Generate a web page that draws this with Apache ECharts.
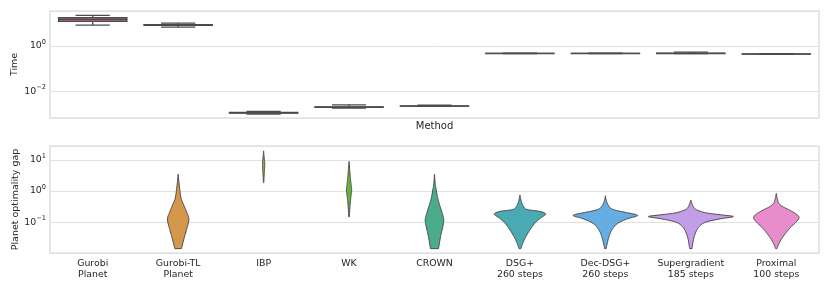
<!DOCTYPE html>
<html><head><meta charset="utf-8">
<script src="https://cdn.jsdelivr.net/npm/echarts@6/dist/echarts.min.js"></script>
<style>html,body{margin:0;padding:0;background:#fff}#c{width:830px;height:291px}</style>
</head><body><div id="c"></div>
<script>
// ---------- data ----------
const methods = ['Gurobi\nPlanet','Gurobi-TL\nPlanet','IBP','WK','CROWN','DSG+\n260 steps','Dec-DSG+\n260 steps','Supergradient\n185 steps','Proximal\n100 steps'];
const colors = ['#b06a76','#d5974c','#a5a23f','#64b43c','#4aac8c','#4aaab4','#65ade2','#c39ee8','#e88ccb'];

// Time (s) box statistics per method
const timeLow    = [8.1,   6.6,   0.00098, 0.0018, 0.00214, 0.45, 0.45, 0.45, 0.42];
const timeQ1     = [11.8,  7.9,   0.00108, 0.00195,0.00218, 0.455,0.455,0.455,0.425];
const timeMedian = [14.5,  8.2,   0.00112, 0.0020, 0.0022,  0.46, 0.46, 0.46, 0.43];
const timeQ3     = [17.4,  8.5,   0.00116, 0.00205,0.00225, 0.465,0.465,0.47, 0.435];
const timeHigh   = [21.8,  10.0,  0.0013,  0.0025, 0.00245, 0.47, 0.47, 0.53, 0.45];

// Planet optimality gap: violin profiles (gap levels, relative density)
const gapGurobiTLLevels  = [3.467,1.380,0.579,0.313,0.1905,0.126,0.0676,0.0339,0.0141];
const gapGurobiTLDensity = [0,.030,.070,.148,.211,.251,.211,.148,.077];
const gapIBPLevels  = [19.5,12.6,7.94,5.01,3.16,1.86];
const gapIBPDensity = [0,.012,.026,.022,.013,.004];
const gapWKLevels  = [8.91,5.01,2.51,1.58,1.07,0.631,0.316,0.148];
const gapWKDensity = [0,.014,.033,.049,.061,.042,.021,.005];
const gapCROWNLevels  = [3.467,1.766,1.076,0.579,0.313,0.168,0.116,0.0708,0.0339,0.0141];
const gapCROWNDensity = [0,.016,.040,.077,.133,.194,.218,.194,.141,.094];
const gapDSGLevels  = [0.743,0.575,0.398,0.275,0.245,0.221,0.181,0.131,0.080,0.038,0.0205,0.0141];
const gapDSGDensity = [0,.016,.047,.117,.234,.468,.602,.468,.311,.157,.063,.023];
const gapDecDSGLevels  = [0.708,0.537,0.380,0.275,0.232,0.1995,0.164,0.129,0.0912,0.055,0.0295,0.0141];
const gapDecDSGDensity = [0,.016,.054,.133,.288,.522,.756,.522,.288,.148,.070,.016];
const gapSupergradLevels  = [0.513,0.355,0.257,0.1995,0.172,0.151,0.129,0.1,0.0676,0.0339,0.0141];
const gapSupergradDensity = [0,.040,.117,.351,.703,.995,.703,.351,.180,.077,.028];
const gapProximalLevels  = [0.841,0.579,0.398,0.313,0.244,0.181,0.141,0.102,0.0625,0.0339,0.0205,0.0141];
const gapProximalDensity = [0,.023,.063,.157,.311,.468,.532,.468,.311,.157,.063,.016];

const violinProfiles = [
  null,
  [gapGurobiTLLevels, gapGurobiTLDensity],
  [gapIBPLevels, gapIBPDensity],
  [gapWKLevels, gapWKDensity],
  [gapCROWNLevels, gapCROWNDensity],
  [gapDSGLevels, gapDSGDensity],
  [gapDecDSGLevels, gapDecDSGDensity],
  [gapSupergradLevels, gapSupergradDensity],
  [gapProximalLevels, gapProximalDensity]
];

// ---------- rendering ----------
const EDGE = '#4b4b4b';
const TXT = '#262626';

function powLabel(v) {
  const e = Math.log10(v), r = Math.round(e);
  if (Math.abs(e - r) > 1e-6) return '';
  return '{b|10}{s|' + (r < 0 ? '\u2212' + (-r) : r) + '}';
}
const richPow = {
  b: {fontSize: 9.4, color: TXT, fontFamily: 'DejaVu Sans'},
  s: {fontSize: 6.6, color: TXT, fontFamily: 'DejaVu Sans', padding: [0, 0, 7, 0]}
};

function renderBox(params, api) {
  const i = api.value(0);
  const lo = api.value(1), q1 = api.value(2), med = api.value(3), q3 = api.value(4), hi = api.value(5);
  const pLo = api.coord([i, lo]), pQ1 = api.coord([i, q1]), pMed = api.coord([i, med]),
        pQ3 = api.coord([i, q3]), pHi = api.coord([i, hi]);
  const band = api.coord([1, med])[0] - api.coord([0, med])[0];
  const cx = pMed[0], bw = band * 0.4, cw = band * 0.2;
  const ls = {stroke: EDGE, lineWidth: 1.3};
  return {type: 'group', children: [
    {type: 'line', shape: {x1: cx, y1: pHi[1], x2: cx, y2: pQ3[1]}, style: ls},
    {type: 'line', shape: {x1: cx, y1: pQ1[1], x2: cx, y2: pLo[1]}, style: ls},
    {type: 'line', shape: {x1: cx - cw, y1: pHi[1], x2: cx + cw, y2: pHi[1]}, style: ls},
    {type: 'line', shape: {x1: cx - cw, y1: pLo[1], x2: cx + cw, y2: pLo[1]}, style: ls},
    {type: 'rect', shape: {x: cx - bw, y: pQ3[1], width: 2 * bw, height: pQ1[1] - pQ3[1]},
      style: {fill: colors[i], stroke: EDGE, lineWidth: 1.3}},
    {type: 'line', shape: {x1: cx - bw, y1: pMed[1], x2: cx + bw, y2: pMed[1]}, style: ls}
  ]};
}

// Catmull-Rom sampling of the outline (rendering only)
function smoothSide(pts) {
  const out = [];
  const n = pts.length;
  for (let k = 0; k < n - 1; k++) {
    const p0 = pts[Math.max(k - 1, 0)], p1 = pts[k], p2 = pts[k + 1], p3 = pts[Math.min(k + 2, n - 1)];
    for (let s = 0; s < 8; s++) {
      const t = s / 8, t2 = t * t, t3 = t2 * t;
      const f = (a, b, c, d) => 0.5 * ((2 * b) + (-a + c) * t + (2 * a - 5 * b + 4 * c - d) * t2 + (-a + 3 * b - 3 * c + d) * t3);
      out.push([Math.max(0, f(p0[0], p1[0], p2[0], p3[0])), f(p0[1], p1[1], p2[1], p3[1])]);
    }
  }
  out.push(pts[n - 1]);
  return out;
}

function renderViolin(params, api) {
  const i = api.value(0);
  const prof = violinProfiles[i];
  if (!prof) return;
  const levels = prof[0], dens = prof[1];
  const band = api.coord([1, 1])[0] - api.coord([0, 1])[0];
  const cx = api.coord([i, 1])[0];
  const side = levels.map((lv, k) => [dens[k] * band / 2, api.coord([i, lv])[1]]);
  const sm = smoothSide(side);
  const right = sm.map(p => [cx + p[0], p[1]]);
  const left = sm.slice().reverse().map(p => [cx - p[0], p[1]]);
  return {type: 'polygon', shape: {points: right.concat(left)},
    style: {fill: colors[i], stroke: EDGE, lineWidth: 1, lineJoin: 'round'}};
}

const boxData = methods.map((m, i) => [i, timeLow[i], timeQ1[i], timeMedian[i], timeQ3[i], timeHigh[i]]);
const violinData = methods.map((m, i) => [i, violinProfiles[i] ? violinProfiles[i][0][0] : 1]);

const gridStyle = {show: true, borderColor: '#d5d5d5', borderWidth: 1.2, backgroundColor: '#fff',
  containLabel: false, outerBoundsMode: 'none'};
const splitStyle = {show: true, lineStyle: {color: '#e0e0e0', width: 1}};

const option = {
  animation: false,
  textStyle: {fontFamily: 'DejaVu Sans'},
  grid: [
    Object.assign({left: 50, width: 769, top: 11, height: 107}, gridStyle),
    Object.assign({left: 50, width: 769, top: 146, height: 107}, gridStyle)
  ],
  xAxis: [
    {gridIndex: 0, type: 'category', data: methods, axisLine: {show: false}, axisTick: {show: false},
      axisLabel: {show: false}, name: 'Method', nameLocation: 'middle', nameGap: 3,
      nameTextStyle: {fontSize: 10, color: TXT, fontFamily: 'DejaVu Sans'}},
    {gridIndex: 1, type: 'category', data: methods, axisLine: {show: false}, axisTick: {show: false},
      axisLabel: {interval: 0, fontSize: 9.4, lineHeight: 11, color: TXT, margin: 5, fontFamily: 'DejaVu Sans'}}
  ],
  yAxis: [
    {gridIndex: 0, type: 'log', logBase: 100, min: 0.00066, max: 34, splitNumber: 2,
      axisLine: {show: false}, axisTick: {show: false}, splitLine: splitStyle,
      axisLabel: {formatter: powLabel, rich: richPow, margin: 4},
      name: 'Time', nameLocation: 'middle', nameGap: 30, nameMoveOverlap: false,
      nameTextStyle: {fontSize: 9.5, color: TXT, fontFamily: 'DejaVu Sans'}},
    {gridIndex: 1, type: 'log', logBase: 10, min: 0.0102, max: 28, splitNumber: 3,
      axisLine: {show: false}, axisTick: {show: false}, splitLine: splitStyle,
      axisLabel: {formatter: powLabel, rich: richPow, margin: 4},
      name: 'Planet optimality gap', nameLocation: 'middle', nameGap: 29, nameMoveOverlap: false,
      nameTextStyle: {fontSize: 9.5, color: TXT, fontFamily: 'DejaVu Sans'}}
  ],
  series: [
    {type: 'custom', xAxisIndex: 0, yAxisIndex: 0, data: boxData, renderItem: renderBox,
      encode: {x: 0, y: [1, 2, 3, 4, 5]}, clip: true},
    {type: 'custom', xAxisIndex: 1, yAxisIndex: 1, data: violinData, renderItem: renderViolin,
      encode: {x: 0, y: 1}, clip: true}
  ]
};
const chart = echarts.init(document.getElementById('c'), null, {renderer: 'canvas'});
chart.setOption(option);
</script></body></html>
